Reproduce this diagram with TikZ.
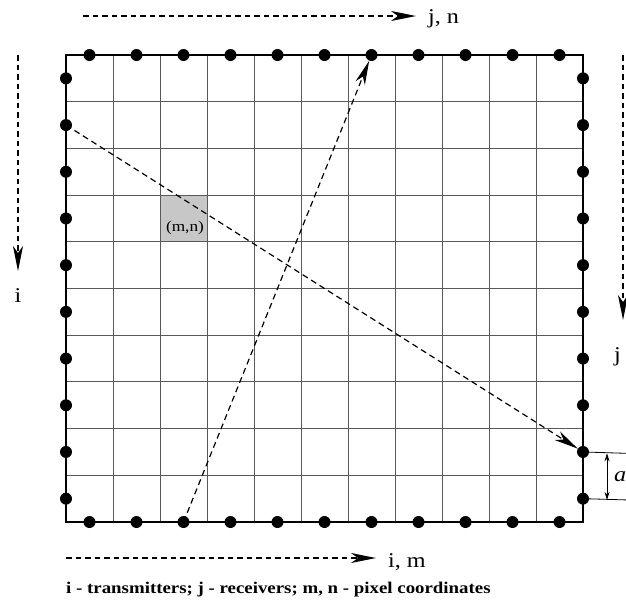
\documentclass[tikz,border=0pt]{standalone}
\usepackage{fontspec}
\setmainfont[FakeStretch=1.15]{Liberation Serif}
\usetikzlibrary{arrows.meta}
\begin{document}
\begin{tikzpicture}[x=1pt,y=-1pt,
  gridline/.style={draw=black!65,line width=1pt},
  border/.style={draw=black,line width=1.5pt},
  dot/.style={circle,fill=black,inner sep=0pt,minimum size=12pt},
  dasharrow/.style={line width=1.4pt,dash pattern=on 5.5pt off 4pt,-{Stealth[length=25pt,width=10pt,inset=7pt]}},
  raylink/.style={line width=1.2pt,dash pattern=on 6pt off 4pt,-{Stealth[length=24pt,width=10pt,inset=7pt]}},
  lbl/.style={font=\fontsize{21}{24}\selectfont,inner sep=0pt},
]
\useasboundingbox (0,0) rectangle (626,606);
% shaded pixel
\fill[black!22] (160,195.1) rectangle (207,241.8);
\node[font=\fontsize{15}{17}\selectfont,inner sep=0pt] (mn) at (185,228) {(m,n)};
% grid
\foreach \i in {1,...,10} \draw[gridline] ({66+\i*47},55) -- ({66+\i*47},522);
\foreach \j in {1,...,9} \draw[gridline] (66,{55+\j*46.7}) -- (583,{55+\j*46.7});
\draw[border] (66,55) rectangle (583,522);
% dots
\foreach \k in {1,...,11} {
  \node[dot] (t\k) at ({66+(\k-0.5)*47},55) {};
  \node[dot] (b\k) at ({66+(\k-0.5)*47},522) {};
}
\foreach \k in {1,...,10} {
  \node[dot] (l\k) at (66,{55+(\k-0.5)*46.7}) {};
  \node[dot] (r\k) at (583,{55+(\k-0.5)*46.7}) {};
}
% rays
\draw[raylink] (l2.center) -- (r9);
\draw[raylink] (b3.center) -- (t7);
% top axis
\coordinate (ta) at (83,16);
\coordinate (tb) at (416,16);
\node[lbl,anchor=base west] (jn) at (428,23) {j, n};
\draw[dasharrow] (ta) -- (tb);
% left axis
\coordinate (la) at (18,55);
\coordinate (lb) at (18,271);
\node[lbl] (iL) at (18,296) {i};
\draw[dasharrow] (la) -- (lb);
% right axis
\coordinate (ra) at (623,55);
\coordinate (rb) at (623,320);
\node[lbl,anchor=west] (jR) at (614,357) {j};
\draw[dasharrow] (ra) -- (rb);
% bottom axis
\coordinate (ba) at (66,558);
\coordinate (bb) at (376,558);
\node[lbl,anchor=base west] (im) at (388,567) {i, m};
\draw[dasharrow] (ba) -- (bb);
% dimension a
\coordinate (d1) at (626,453.3);
\coordinate (d2) at (626,499.9);
\draw[line width=0.8pt] (r9.center) -- (d1);
\draw[line width=0.8pt] (r10.center) -- (d2);
\draw[line width=0.8pt,{Stealth[length=8pt,width=5pt]}-{Stealth[length=8pt,width=5pt]}] (607,453.3) -- (607,499.9);
\node[lbl,anchor=west,font=\fontsize{21}{24}\selectfont\itshape] (aL) at (614,477) {a};
% caption
\node[anchor=base west,inner sep=0pt,font=\fontsize{16.4}{19}\selectfont\bfseries] (cap) at (66,593) {i - transmitters; j - receivers; m, n - pixel coordinates};
\end{tikzpicture}
\end{document}
